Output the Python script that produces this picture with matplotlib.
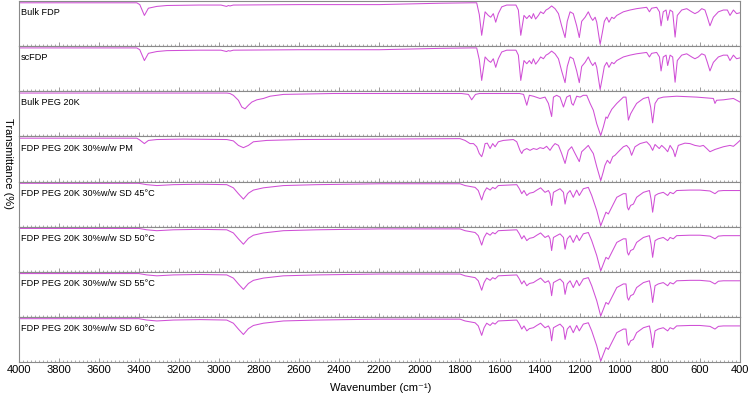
import numpy as np
import matplotlib
matplotlib.use("Agg")
import matplotlib.pyplot as plt
from matplotlib.ticker import MultipleLocator

# FTIR spectra: (wavenumber cm-1, transmittance % of panel height)
bulk_fdp = [
    (4000, 96), (3410, 96), (3395, 92), (3372, 68), (3352, 84), (3310, 88), (3260, 90),
    (3100, 91), (2990, 91), (2962, 88), (2953, 90), (2945, 89), (2928, 91), (2600, 92),
    (2200, 92), (1900, 95), (1740, 96), (1714, 96), (1701, 70), (1689, 24), (1672, 76),
    (1656, 68), (1644, 64), (1631, 72), (1619, 53), (1606, 72), (1589, 87), (1564, 91),
    (1518, 91), (1506, 80), (1494, 24), (1478, 68), (1464, 61), (1451, 68), (1440, 61),
    (1431, 72), (1420, 60), (1406, 68), (1395, 76), (1381, 72), (1368, 80), (1356, 83),
    (1340, 89), (1323, 83), (1306, 72), (1290, 45), (1273, 19), (1262, 55), (1248, 76),
    (1232, 72), (1215, 45), (1202, 19), (1190, 55), (1173, 64), (1157, 76), (1145, 64),
    (1135, 57), (1123, 64), (1115, 53), (1098, 4), (1087, 30), (1077, 55), (1065, 64),
    (1054, 53), (1040, 64), (1029, 61), (1015, 68), (982, 76), (949, 80), (916, 83),
    (866, 86), (852, 76), (841, 84), (816, 86), (802, 76), (794, 45), (783, 76), (769, 80),
    (761, 57), (749, 80), (736, 76), (724, 20), (713, 68), (691, 80), (666, 83), (641, 76),
    (625, 72), (608, 76), (591, 83), (575, 80), (563, 64), (550, 45), (533, 64), (508, 76),
    (483, 80), (463, 80), (450, 68), (433, 80), (417, 72), (400, 74),
]
sc_fdp = bulk_fdp

bulk_peg = [
    (4000, 96), (2960, 96), (2945, 95), (2928, 91), (2903, 80), (2886, 65), (2870, 61),
    (2853, 69), (2836, 76), (2811, 81), (2778, 84), (2745, 89), (2678, 93), (2429, 95),
    (2246, 95), (1790, 95), (1755, 93), (1739, 81), (1720, 93), (1700, 95), (1500, 95),
    (1480, 93), (1464, 69), (1451, 91), (1431, 89), (1398, 84), (1373, 87), (1356, 73),
    (1340, 44), (1331, 87), (1315, 91), (1298, 87), (1281, 65), (1265, 87), (1248, 91),
    (1240, 73), (1232, 69), (1215, 89), (1198, 87), (1182, 91), (1165, 91), (1148, 73),
    (1132, 58), (1115, 28), (1095, 2), (1082, 21), (1069, 43), (1062, 40), (1055, 47),
    (1040, 60), (1015, 73), (982, 87), (969, 87), (957, 36), (946, 50), (932, 61),
    (916, 73), (882, 84), (857, 87), (846, 65), (836, 30), (824, 73), (808, 84),
    (783, 87), (716, 89), (616, 87), (533, 84), (525, 73), (517, 80), (483, 81),
    (433, 84), (400, 76),
]

pm = [
    (4000, 96), (3410, 96), (3395, 92), (3372, 84), (3352, 91), (3310, 93), (3177, 94),
    (2961, 93), (2928, 90), (2903, 80), (2878, 75), (2853, 80), (2828, 88), (2762, 91),
    (2595, 93), (2196, 94), (1797, 95), (1772, 91), (1747, 84), (1730, 84), (1714, 77),
    (1701, 62), (1689, 55), (1681, 66), (1672, 84), (1661, 85), (1647, 73), (1634, 84),
    (1622, 77), (1606, 88), (1581, 91), (1531, 93), (1514, 88), (1498, 69), (1489, 62),
    (1481, 69), (1464, 73), (1448, 69), (1431, 73), (1414, 71), (1398, 75), (1381, 73),
    (1365, 78), (1348, 69), (1335, 78), (1323, 84), (1306, 80), (1290, 62), (1273, 40),
    (1257, 69), (1240, 77), (1223, 62), (1202, 44), (1190, 66), (1173, 73), (1157, 80),
    (1148, 73), (1132, 62), (1115, 33), (1095, 2), (1082, 22), (1074, 36), (1062, 47),
    (1049, 40), (1035, 55), (1024, 58), (1007, 66), (982, 77), (966, 80), (952, 73),
    (941, 58), (924, 77), (899, 84), (866, 88), (849, 80), (836, 69), (824, 82), (803, 73),
    (791, 80), (774, 73), (761, 66), (749, 80), (733, 69), (724, 55), (708, 80), (675, 85),
    (650, 84), (625, 80), (600, 78), (583, 80), (566, 73), (550, 66), (525, 71), (483, 77),
    (450, 80), (433, 78), (417, 84), (400, 91),
]

sd = [
    (4000, 96), (3400, 96), (3360, 93), (3310, 91), (3227, 93), (3094, 94), (2961, 93),
    (2928, 86), (2903, 73), (2878, 61), (2853, 74), (2828, 81), (2778, 86), (2678, 91),
    (2512, 93), (2196, 95), (1797, 95), (1772, 91), (1747, 89), (1722, 87), (1706, 80),
    (1689, 59), (1677, 76), (1664, 86), (1647, 81), (1634, 87), (1622, 84), (1606, 91),
    (1514, 93), (1501, 84), (1489, 73), (1478, 80), (1464, 69), (1451, 74), (1431, 76),
    (1414, 81), (1395, 86), (1373, 76), (1356, 80), (1348, 73), (1340, 47), (1331, 76),
    (1315, 80), (1298, 84), (1281, 76), (1273, 50), (1262, 73), (1248, 80), (1232, 65),
    (1215, 81), (1202, 69), (1182, 84), (1157, 87), (1140, 69), (1115, 36), (1095, 2),
    (1082, 17), (1069, 32), (1057, 28), (1040, 43), (1015, 65), (982, 73), (969, 73),
    (962, 43), (956, 37), (946, 47), (932, 50), (916, 65), (882, 76), (852, 80), (844, 61),
    (836, 32), (824, 69), (808, 73), (783, 76), (761, 69), (749, 76), (733, 73), (716, 80),
    (650, 81), (600, 81), (550, 79), (525, 73), (508, 79), (483, 80), (433, 80), (400, 80),
]

panel_labels = [
    "Bulk FDP", "scFDP", "Bulk PEG 20K", "FDP PEG 20K 30%w/w PM",
    "FDP PEG 20K 30%w/w SD 45°C", "FDP PEG 20K 30%w/w SD 50°C",
    "FDP PEG 20K 30%w/w SD 55°C", "FDP PEG 20K 30%w/w SD 60°C",
]
panel_spectra = [bulk_fdp, sc_fdp, bulk_peg, pm, sd, sd, sd, sd]

plt.rcParams["font.family"] = ["Liberation Sans", "DejaVu Sans"]

line_color = "#d04fd6"
frame_color = "#8a8a8a"

fig = plt.figure(figsize=(7.5, 3.95), dpi=100)
gs = fig.add_gridspec(8, 1, left=0.0247, right=0.9867, top=0.9975, bottom=0.0835, hspace=0)

for i, (label, spec) in enumerate(zip(panel_labels, panel_spectra)):
    ax = fig.add_subplot(gs[i])
    arr = np.array(spec, dtype=float)
    ax.plot(arr[:, 0], arr[:, 1], color=line_color, lw=0.75)
    ax.set_xlim(4000, 400)
    ax.set_ylim(0, 100)
    ax.set_yticks([])
    ax.xaxis.set_major_locator(MultipleLocator(200))
    ax.xaxis.set_minor_locator(MultipleLocator(20))
    ax.tick_params(axis="x", which="major", direction="in", length=3, width=0.6,
                   color=frame_color, labelsize=8, pad=2)
    ax.tick_params(axis="x", which="minor", direction="in", length=1.5, width=0.5,
                   color=frame_color)
    for s in ax.spines.values():
        s.set_color(frame_color)
        s.set_linewidth(0.8)
    if i < len(panel_labels) - 1:
        ax.tick_params(axis="x", labelbottom=False)
    ax.text(0.003, 0.74, label, transform=ax.transAxes, fontsize=6.6, va="center", ha="left")

fig.text(0.011, 0.585, "Transmittance (%)", rotation=270, va="center", ha="center", fontsize=8)
fig.text(0.507, 0.018, "Wavenumber (cm⁻¹)", va="center", ha="center", fontsize=8)

fig.savefig("out.png", dpi=100)
